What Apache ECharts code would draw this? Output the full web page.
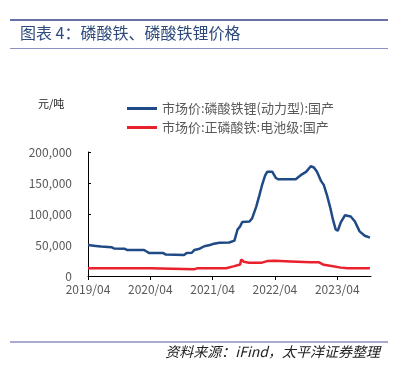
<!DOCTYPE html>
<html>
<head>
<meta charset="utf-8">
<script src="https://cdn.jsdelivr.net/npm/echarts@6/dist/echarts.min.js"></script>
<style>
html,body{margin:0;padding:0;background:#fff;}
#chart{width:399px;height:371px;}
</style>
</head>
<body>
<div id="chart"></div>
<script>
// x values: months since 2019/04
var tickLabels = ['2019/04', '2020/04', '2021/04', '2022/04', '2023/04'];
var tickMonths = [0, 12, 24, 36, 48];

var lfpName = '市场价:磷酸铁锂(动力型):国产';
var lfpMonths = [0, 1.5, 2.5, 4.5, 5, 7, 7.5, 10.8, 11.2, 11.8, 14.5, 15, 18.5, 19, 20, 20.5, 21.5, 22.4, 23.5, 24, 25.3, 27.2, 28.2, 28.8, 29.3, 29.7, 31.1, 31.6, 32.4, 33, 33.5, 34.1, 34.5, 35.5, 36.2, 36.6, 40, 41.2, 42, 42.9, 43.5, 44.1, 44.9, 45.4, 46, 46.6, 47.2, 47.7, 48.1, 48.7, 49.5, 50.6, 51.4, 52.3, 53.3, 54.3];
var lfpPrice = [50000, 48500, 47500, 46500, 44500, 44000, 42000, 42000, 40000, 37000, 37000, 34500, 34000, 37000, 37500, 42000, 44000, 48000, 50000, 51500, 53500, 54000, 57000, 75000, 80000, 87000, 88000, 93000, 112000, 130000, 146000, 162000, 168000, 168000, 158000, 156000, 156000, 164000, 168000, 177000, 175000, 168000, 153000, 147000, 131000, 112000, 90000, 75000, 73000, 87000, 98000, 96000, 88000, 72000, 65000, 62000];

var fpName = '市场价:正磷酸铁:电池级:国产';
var fpMonths = [0, 12, 12.3, 20.5, 21, 26.6, 28, 29.3, 29.5, 30, 31, 33.5, 34.5, 36, 39, 42.9, 44.5, 45.4, 46.9, 48.7, 50, 54.3];
var fpPrice = [12400, 12400, 11000, 11000, 12400, 12400, 15500, 18500, 26500, 23000, 21500, 21500, 24000, 24500, 23500, 22000, 22000, 18000, 16000, 13500, 12400, 12400];

function pairs(xs, ys) { return xs.map(function (x, i) { return [x, ys[i]]; }); }

var chart = echarts.init(document.getElementById('chart'), null, {renderer: 'canvas'});
var cjk = '"Noto Sans CJK SC", "Noto Sans", sans-serif';
chart.setOption({
  animation: false,
  backgroundColor: '#fff',
  textStyle: {fontFamily: cjk},
  graphic: [
    {type: 'rect', shape: {x: 10, y: 19, width: 378, height: 2}, style: {fill: '#6B6FA8'}},
    {type: 'text', x: 20, y: 33, style: {text: '图表 4：磷酸铁、磷酸铁锂价格', font: '16px ' + cjk, fill: '#2E4B7C', verticalAlign: 'middle'}},
    {type: 'rect', shape: {x: 10, y: 48, width: 378, height: 1}, style: {fill: '#8E91C2'}},
    {type: 'text', x: 38, y: 104, style: {text: '元/吨', font: '11px ' + cjk, fill: '#222', verticalAlign: 'middle'}},
    {type: 'rect', shape: {x: 10, y: 341, width: 378, height: 2}, style: {fill: '#A9ABD2'}},
    {type: 'text', x: 380, y: 352, style: {text: '资料来源：iFind，太平洋证券整理', font: 'italic 14px ' + cjk, fill: '#222', align: 'right', verticalAlign: 'middle'}}
  ],
  legend: {
    orient: 'vertical',
    left: 127,
    top: 102,
    padding: 0,
    itemGap: 6,
    itemWidth: 30,
    itemHeight: 3,
    icon: 'rect',
    textStyle: {fontSize: 13, color: '#595959', lineHeight: 13, fontFamily: cjk},
    data: [lfpName, fpName]
  },
  grid: {left: 88, right: 28, top: 152, bottom: 95},
  xAxis: {
    type: 'value',
    min: 0,
    max: 54.5,
    interval: 12,
    splitLine: {show: false},
    axisLine: {lineStyle: {color: '#000', width: 1}},
    axisTick: {show: true, length: 4, lineStyle: {color: '#000'}, customValues: tickMonths},
    axisLabel: {
      customValues: tickMonths,
      color: '#595959', fontSize: 12, margin: 7, fontFamily: cjk,
      formatter: function (v) { var i = tickMonths.indexOf(v); return i >= 0 ? tickLabels[i] : ''; }
    }
  },
  yAxis: {
    type: 'value',
    min: 0,
    max: 200000,
    interval: 50000,
    splitLine: {show: false},
    axisLine: {show: true, lineStyle: {color: '#000', width: 1}},
    axisTick: {show: true, inside: true, length: 3, lineStyle: {color: '#000'}},
    axisLabel: {
      color: '#595959', fontSize: 12, margin: 16, fontFamily: cjk,
      formatter: function (v) { return String(v).replace(/\B(?=(\d{3})+(?!\d))/g, ','); }
    }
  },
  series: [
    {name: lfpName, type: 'line', data: pairs(lfpMonths, lfpPrice), showSymbol: false, symbol: 'none',
     lineStyle: {color: '#1F4A86', width: 2.5}, itemStyle: {color: '#1F4A86'}},
    {name: fpName, type: 'line', data: pairs(fpMonths, fpPrice), showSymbol: false, symbol: 'none',
     lineStyle: {color: '#E8212D', width: 2.5}, itemStyle: {color: '#E8212D'}}
  ]
});
</script>
</body>
</html>
